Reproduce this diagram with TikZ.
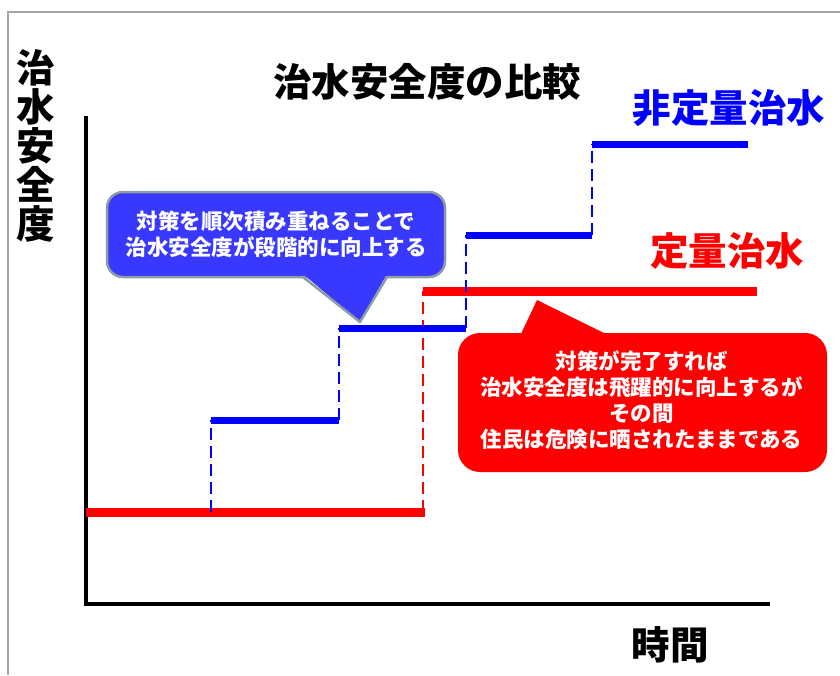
\documentclass[tikz,border=0pt]{standalone}
\usepackage{fontspec}
\setmainfont{Noto Sans CJK JP}
\usetikzlibrary{calc}
\definecolor{cblue}{RGB}{0,0,255}
\definecolor{cred}{RGB}{255,0,0}
\definecolor{boxblue}{RGB}{56,56,255}
\definecolor{boxedge}{RGB}{140,156,164}
\definecolor{framegray}{RGB}{165,165,165}
\tikzset{
  head/.style={font=\fontsize{38.5}{39}\selectfont\bfseries, inner sep=0pt},
  callouttext/.style={font=\fontsize{21.5}{26}\selectfont\bfseries, text=white, align=center},
  bluestep/.style={draw=cblue, line width=7pt},
  bluedash/.style={draw=cblue, line width=2.6pt, dash pattern=on 12pt off 6pt},
  redstep/.style={draw=cred, line width=9pt},
  reddash/.style={draw=cred, line width=2.6pt, dash pattern=on 12pt off 6pt},
  axisline/.style={draw=black, line width=4pt},
  bluebox/.style={fill=boxblue, draw=boxedge, line width=2.5pt, rounded corners=16pt, inner sep=0pt},
  redbox/.style={fill=cred, rounded corners=22pt, inner sep=0pt},
}
\begin{document}
\begin{tikzpicture}[x=1pt,y=-1pt]
\useasboundingbox (0,0) rectangle (840,675);
% frame
\draw[framegray, line width=1.5pt] (8,675) -- (8,12) -- (840,12);

% texts
\node[head] (title) at (427,82) {治水安全度の比較};
\node[head, text=cblue] (nonq) at (729,108) {非定量治水};
\node[head, text=cred] (quant) at (727,251) {定量治水};
\node[head, align=center] (ylab) at (36,145.5) {治\\水\\安\\全\\度};
\node[head] (xlab) at (670,645) {時間};

% axes
\coordinate (ytop) at (86,116);
\coordinate (orig) at (86,604);
\coordinate (xend) at (770,604);
\draw[axisline] (ytop) -- (orig) -- (xend);

% red (quantitative)
\coordinate (r0) at (86,512);
\coordinate (r1) at (425,512);
\coordinate (r2) at (423,512);
\coordinate (r3) at (423,291);
\coordinate (r4) at (757,291);
\draw[reddash] (r2) -- (r3);
\draw[redstep] (r0) -- (r1);
\draw[redstep] (r3) -- (r4);

% blue (non-quantitative)
\coordinate (b0) at (211,512);
\coordinate (b1) at (211,420);
\coordinate (b2) at (339,420);
\coordinate (b3) at (339,328);
\coordinate (b4) at (466,328);
\coordinate (b5) at (466,235);
\coordinate (b6) at (592,235);
\coordinate (b7) at (592,144);
\coordinate (b8) at (748,144);
\draw[bluedash] (b0) -- (b1);
\draw[bluedash] (b2) -- (b3);
\draw[bluedash] (b4) -- (b5);
\draw[bluedash] (b6) -- (b7);
\draw[bluestep] (b1) -- (b2);
\draw[bluestep] (b3) -- (b4);
\draw[bluestep] (b5) -- (b6);
\draw[bluestep] (b7) -- (b8);

% blue callout
\node[bluebox, minimum width=338pt, minimum height=85pt] (bbox) at (276,234.5) {};
\coordinate (btl) at (303,277);
\coordinate (btr) at (387,277);
\coordinate (btip) at (360,322);
\fill[boxblue] ($(btl)+(0,-3)$) -- (btip) -- ($(btr)+(0,-3)$) -- cycle;
\draw[boxedge, line width=2.5pt, line join=round] (btl) -- (btip) -- (btr);
\node[callouttext] (btext) at (bbox.center) {対策を順次積み重ねることで\\治水安全度が段階的に向上する};

% red callout
\node[redbox, minimum width=369pt, minimum height=139pt] (rbox) at (642.5,402.5) {};
\coordinate (rtl) at (520,336);
\coordinate (rtr) at (610,336);
\coordinate (rtip) at (537,300);
\fill[cred] (rtl) -- (rtip) -- (rtr) -- cycle;
\node[callouttext] (rtext) at ($(rbox.center)+(-1,-2)$) {対策が完了すれば\\治水安全度は飛躍的に向上するが\\その間\\住民は危険に晒されたままである};
\end{tikzpicture}
\end{document}
